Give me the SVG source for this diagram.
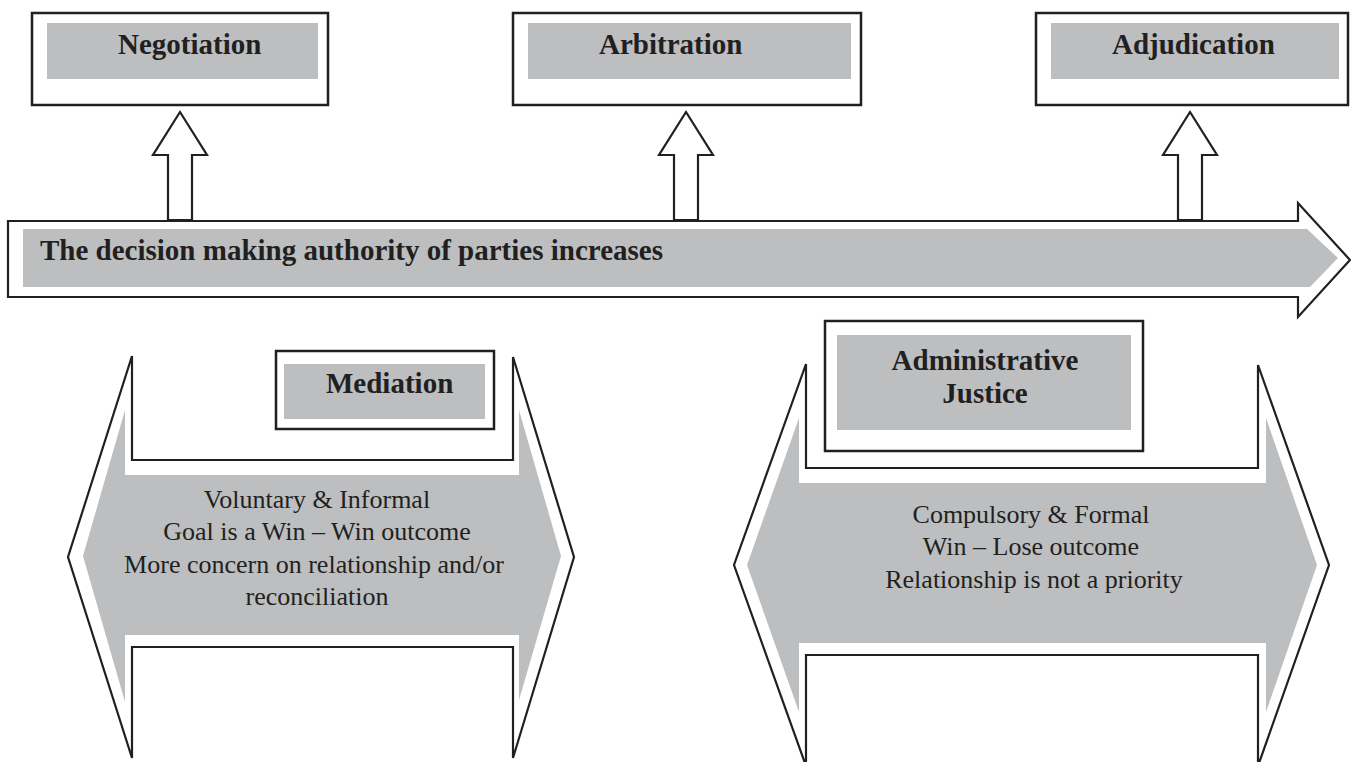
<svg xmlns="http://www.w3.org/2000/svg" width="1351" height="762" viewBox="0 0 1351 762">
  <style>
    .frame { fill: #ffffff; stroke: #231f20; stroke-width: 2.5; }
    .pad { fill: #bcbec0; }
    .outline { fill: #ffffff; stroke: #231f20; stroke-width: 2.2; stroke-linejoin: miter; }
    .title { font-family: "Liberation Serif", "Times New Roman", serif; font-weight: bold; font-size: 29px; fill: #231f20; }
    .body { font-family: "Liberation Serif", "Times New Roman", serif; font-size: 26px; fill: #231f20; text-anchor: middle; }
  </style>

  <rect width="1351" height="762" fill="#ffffff"/>

  <!-- horizontal axis arrow -->
  <g id="decision-axis">
    <polygon class="outline" points="8,221 1298,221 1298,203 1350,260 1298,317 1298,297 8,297"/>
    <polygon class="pad" points="23,229 1307,229 1338,258 1310,287 23,287"/>
    <text class="title" x="40" y="260">The decision making authority of parties increases</text>
  </g>

  <!-- upward block arrows from the axis to the top boxes -->
  <g id="connectors">
    <polygon class="outline" points="180,112 207,155 192,155 192,220 168,220 168,155 153,155"/>
    <polygon class="outline" points="686,112 713,155 698,155 698,220 674,220 674,155 659,155"/>
    <polygon class="outline" points="1190,112 1217,155 1202,155 1202,220 1178,220 1178,155 1163,155"/>
  </g>

  <g id="negotiation">
    <rect class="frame" x="32" y="13" width="296" height="92"/>
    <rect class="pad" x="47" y="23" width="271" height="56"/>
    <text class="title" x="118" y="54">Negotiation</text>
  </g>

  <g id="arbitration">
    <rect class="frame" x="513" y="13" width="348" height="92"/>
    <rect class="pad" x="528" y="23" width="323" height="56"/>
    <text class="title" x="599" y="54">Arbitration</text>
  </g>

  <g id="adjudication">
    <rect class="frame" x="1036" y="13" width="312" height="92"/>
    <rect class="pad" x="1051" y="23" width="288" height="56"/>
    <text class="title" x="1112" y="54">Adjudication</text>
  </g>

  <!-- left-right double arrow: informal processes -->
  <g id="mediation-traits">
    <polygon class="outline" points="132,356 132,460 513,460 513,357 574,557 513,758 513,647 132,647 132,758 68,557"/>
    <polygon class="pad" points="125,475 125,410 83,556 125,702 125,635 519,635 519,700 561,556 519,410 519,475"/>
    <text class="body" x="317" y="508">Voluntary &amp; Informal</text>
    <text class="body" x="317" y="540">Goal is a Win – Win outcome</text>
    <text class="body" x="314" y="573">More concern on relationship and/or</text>
    <text class="body" x="317" y="605">reconciliation</text>
  </g>

  <g id="mediation">
    <rect class="frame" x="276" y="351" width="218" height="78"/>
    <rect class="pad" x="284" y="364" width="201" height="55"/>
    <text class="title" x="326" y="393">Mediation</text>
  </g>

  <!-- left-right double arrow: formal processes -->
  <g id="admin-traits">
    <polygon class="outline" points="806,364 806,468 1258,468 1258,365 1329,565 1258,766 1258,655 806,655 806,766 734,565"/>
    <polygon class="pad" points="799,483 799,418 747,565 799,712 799,643 1266,643 1266,712 1317,565 1266,418 1266,483"/>
    <text class="body" x="1031" y="523">Compulsory &amp; Formal</text>
    <text class="body" x="1031" y="555">Win – Lose outcome</text>
    <text class="body" x="1034" y="588">Relationship is not a priority</text>
  </g>

  <g id="administrative-justice">
    <rect class="frame" x="825" y="321" width="318" height="130"/>
    <rect class="pad" x="837" y="335" width="294" height="95"/>
    <text class="title" x="985" y="370" text-anchor="middle">Administrative</text>
    <text class="title" x="985" y="403" text-anchor="middle">Justice</text>
  </g>
</svg>
